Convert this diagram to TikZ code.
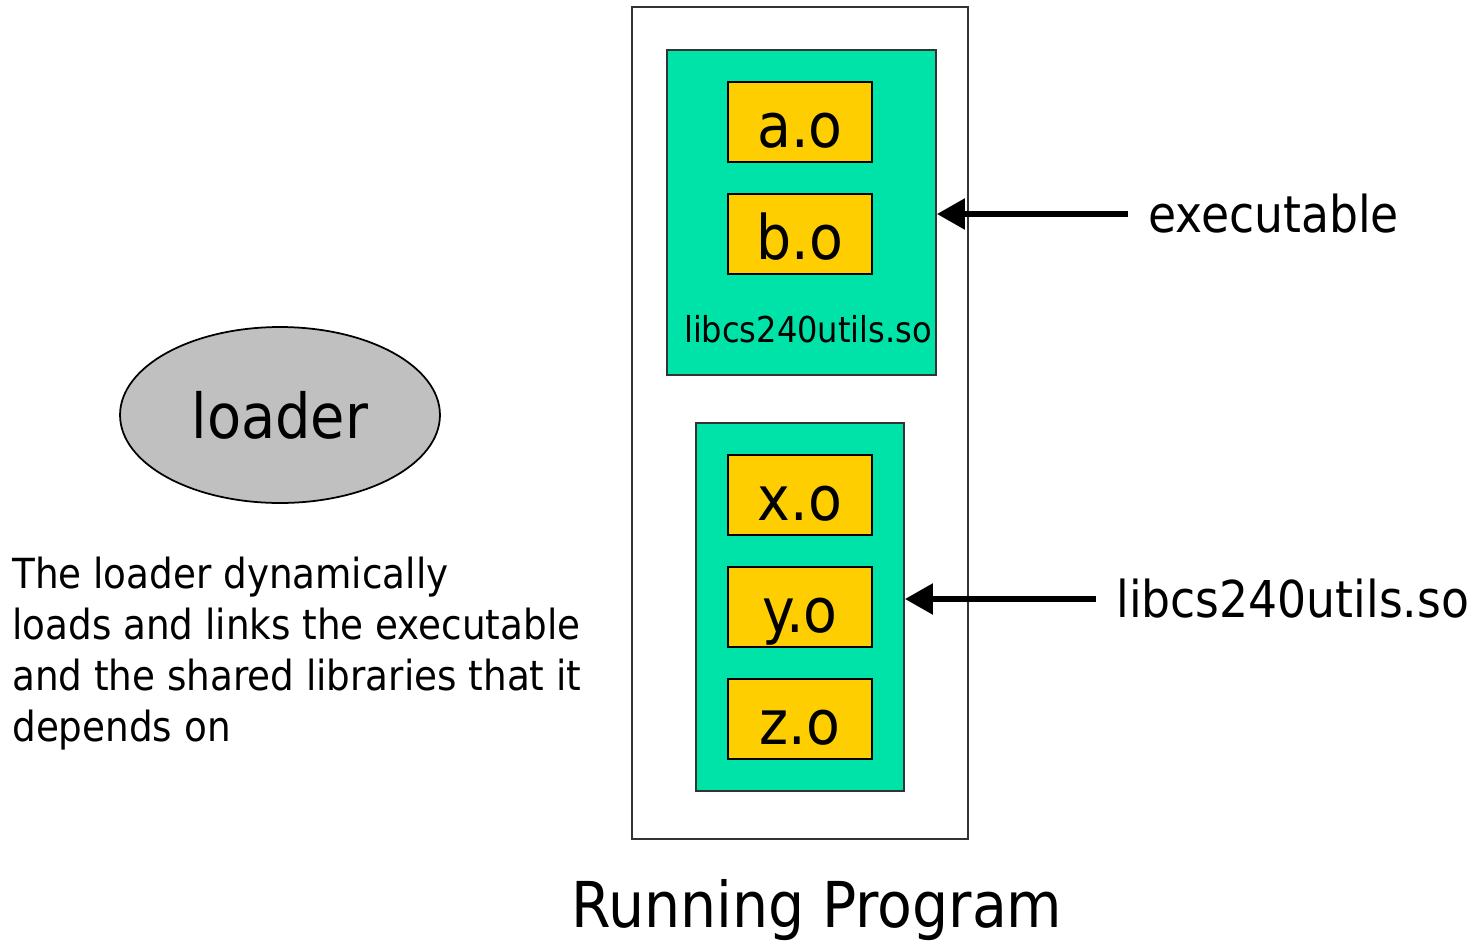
\documentclass[tikz,border=0pt]{standalone}
\usepackage{fontspec}
\setmainfont{DejaVu Sans Condensed}
\usepackage{tikz}
\usetikzlibrary{positioning}
\usetikzlibrary{arrows.meta,shapes.geometric}

\definecolor{libgreen}{RGB}{0,227,168}
\definecolor{objyellow}{RGB}{255,206,0}
\definecolor{loadergray}{RGB}{192,192,192}

\tikzset{
  objbox/.style={draw=black,line width=1pt,fill=objyellow,minimum width=2.88cm,minimum height=1.6cm,inner sep=0pt,text height=29pt,text depth=0pt,font=\fontsize{35}{40}\selectfont},
  libbox/.style={draw=black!80,line width=1pt,fill=libgreen,inner sep=0pt},
  arr/.style={-{Triangle[length=16pt,width=17pt]},line width=3.4pt},
  sidelabel/.style={anchor=west,inner sep=0pt,inner xsep=11.4pt,font=\fontsize{28.9}{32}\selectfont},
}

\begin{document}
\begin{tikzpicture}[x=0.02cm,y=-0.02cm]
  \useasboundingbox (0,0) rectangle (1477,943);

  % running program and its two parts
  \node[draw=black!80,line width=1pt,minimum width=6.72cm,minimum height=16.64cm,inner sep=0pt] (Prog) at (800,423) {};
  \node[libbox,minimum width=5.38cm,minimum height=6.5cm]  (Exe) at (801.5,212.5) {};
  \node[libbox,minimum width=4.16cm,minimum height=7.36cm] (Lib) at (800,607) {};

  \node[objbox] (A) at (800,122) {a.o};
  \node[objbox] (B) at (800,234) {b.o};
  \node[font=\fontsize{20.3}{24}\selectfont] (ExeName) at (808,329) {libcs240utils.so};

  \node[objbox] (X) at (800,495) {x.o};
  \node[objbox] (Y) at (800,607) {y.o};
  \node[objbox] (Z) at (800,719) {z.o};

  \node[font=\fontsize{36}{40}\selectfont] (Caption) at (817,910) {Running Program};

  % labels on the right
  \node[sidelabel] (ExeLabel) at (1128,214) {executable};
  \node[sidelabel] (LibLabel) at (1096,599) {libcs240utils.so};

  \draw[arr] (ExeLabel.west) -- (ExeLabel.west -| Exe.east);
  \draw[arr] (LibLabel.west) -- (LibLabel.west -| Lib.east);

  % loader
  \node[ellipse,draw=black,line width=1pt,fill=loadergray,minimum width=6.4cm,minimum height=3.52cm,font=\fontsize{35.3}{40}\selectfont] (Loader) at (280,415) {loader};
  \node[anchor=north west,align=left,inner sep=0pt,font=\fontsize{23.6}{29}\selectfont] (Note) at (12,557)
    {The loader dynamically\\loads and links the executable\\and the shared libraries that it\\depends on};
\end{tikzpicture}
\end{document}
